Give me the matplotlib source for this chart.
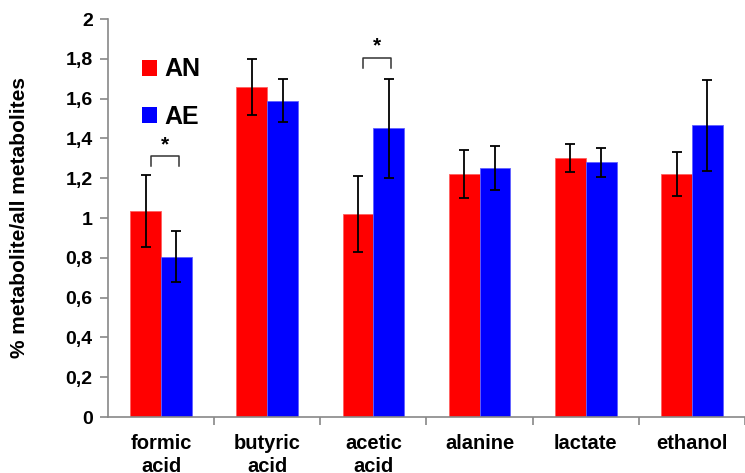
import numpy as np
import matplotlib
matplotlib.use("Agg")
import matplotlib.pyplot as plt
from matplotlib.patches import Patch

plt.rcParams['font.family'] = ['Liberation Sans', 'DejaVu Sans']
plt.rcParams['font.weight'] = 'bold'
plt.rcParams['axes.labelweight'] = 'bold'

categories = ["formic\nacid", "butyric\nacid", "acetic\nacid", "alanine", "lactate", "ethanol"]
an_values = [1.035, 1.66, 1.02, 1.22, 1.30, 1.22]
an_errors = [0.18, 0.14, 0.19, 0.12, 0.07, 0.11]
ae_values = [0.805, 1.59, 1.45, 1.25, 1.28, 1.465]
ae_errors = [0.128, 0.107, 0.25, 0.11, 0.074, 0.23]
yticks = [0, 0.2, 0.4, 0.6, 0.8, 1.0, 1.2, 1.4, 1.6, 1.8, 2.0]
ytick_labels = ["0", "0,2", "0,4", "0,6", "0,8", "1", "1,2", "1,4", "1,6", "1,8", "2"]
# significance brackets: (category index, bracket height)
signif = [(0, 1.31), (2, 1.805)]

fig = plt.figure(figsize=(7.45, 4.73), dpi=100)
ax = fig.add_axes([108 / 745, 56 / 473, 637 / 745, 398 / 473])

x = np.arange(len(categories))
w = 0.29
ax.bar(x - w / 2, an_values, w, color='#ff0000', edgecolor='#ff6060', linewidth=0.6, zorder=2)
ax.bar(x + w / 2, ae_values, w, color='#0000ff', edgecolor='#6060ff', linewidth=0.6, zorder=2)
ax.errorbar(x - w / 2, an_values, yerr=an_errors, fmt='none', ecolor='black',
            elinewidth=1.3, capsize=3.5, capthick=1.3, zorder=3)
ax.errorbar(x + w / 2, ae_values, yerr=ae_errors, fmt='none', ecolor='black',
            elinewidth=1.3, capsize=3.5, capthick=1.3, zorder=3)

for i, h in signif:
    x0, x1 = i - w / 2 + 0.05, i + w / 2 + 0.02
    ax.plot([x0, x0, x1, x1], [h - 0.05, h, h, h - 0.05], color='#333333', lw=1.1)
    ax.text((x0 + x1) / 2, h + 0.01, "*", ha='center', va='bottom', fontsize=15)

ax.set_xlim(-0.5, 5.45)
ax.set_ylim(0, 2)
ax.set_yticks(yticks)
ax.set_yticklabels(ytick_labels, fontsize=14)
ax.set_xticks(x)
ax.set_xticklabels(categories, fontsize=14.5, linespacing=1.3)
ax.set_xticks(x + 0.5, minor=True)
ax.tick_params(axis='x', which='major', length=0, pad=12)
ax.tick_params(axis='x', which='minor', length=6, color='#888888', width=1.2)
ax.tick_params(axis='y', length=6, color='#888888', width=1.2, pad=5)

for s in ['top', 'right']:
    ax.spines[s].set_visible(False)
for s in ['left', 'bottom']:
    ax.spines[s].set_color('#888888')
    ax.spines[s].set_linewidth(1.2)

ax.set_ylabel("% metabolite/all metabolites", fontsize=15, labelpad=26)

handles = [Patch(facecolor='#ff0000', edgecolor='none', label='AN'),
           Patch(facecolor='#0000ff', edgecolor='none', label='AE')]
ax.legend(handles=handles, loc='upper left', bbox_to_anchor=(124 / 745, 1 - 40 / 473),
          bbox_transform=fig.transFigure, frameon=False, fontsize=18,
          handlelength=0.6, handleheight=0.6, handletextpad=0.3, labelspacing=0.95,
          borderpad=0.2)

fig.savefig("out.png", dpi=100)
